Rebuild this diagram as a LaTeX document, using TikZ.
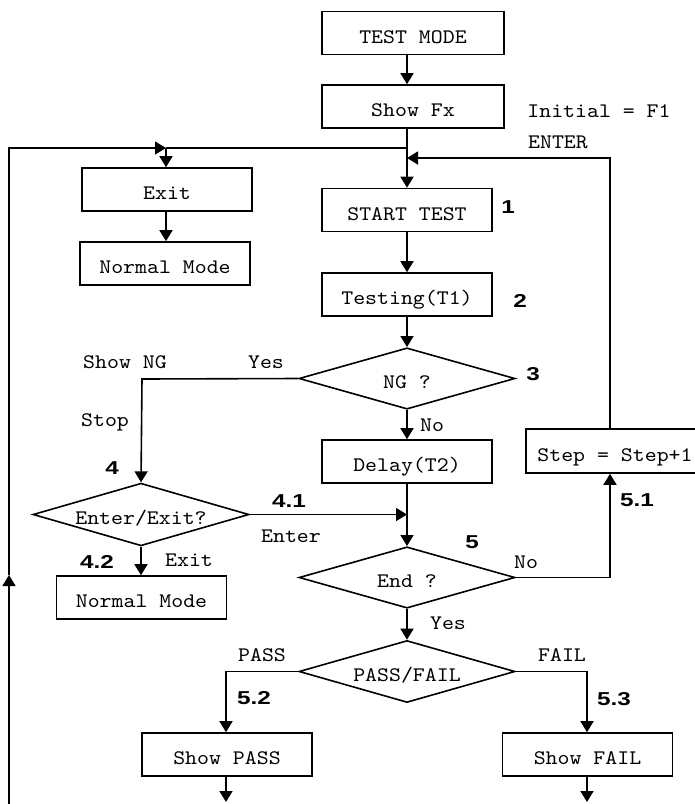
\documentclass[tikz,border=0pt]{standalone}
\usepackage{fontspec}
\usetikzlibrary{arrows.meta,shapes.geometric}
\newfontfamily\ming{lmmono10-regular.otf}[FakeStretch=1.1]
\newfontfamily\numf{Liberation Sans}[FakeStretch=1.3]
\begin{document}
\begin{tikzpicture}[x=0.75pt,y=-0.75pt,
  line width=1.2pt,
  arr/.style={-{Triangle[length=8.25pt,width=9.75pt]}},
  txt/.style={font=\ming\fontsize{15.5}{15.5}\selectfont},
  box/.style={draw,rectangle,inner sep=0pt,minimum width=127.5pt,minimum height=32.25pt,txt,text height=16pt,text depth=0.3pt},
  widebox/.style={box,minimum width=136.5pt},
  dia/.style={draw,diamond,aspect=3.5,inner sep=0pt,minimum width=162pt,minimum height=46pt,txt,text height=16pt,text depth=0.3pt},
  lbl/.style={txt,inner sep=0pt},
  num/.style={font=\numf\bfseries\fontsize{14}{14}\selectfont,inner sep=0pt}]
\useasboundingbox (0,0) rectangle (694,804);

% main column
\node[widebox] (testmode) at (413,33) {TEST MODE};
\node[widebox] (showfx) at (413,106.5) {Show Fx};
\node[box] (start) at (407,210) {START TEST};
\node[box] (testing) at (407,294.5) {Testing(T1)};
\node[dia] (ng) at (407,378.5) {NG ?};
\node[box] (delay) at (407,461.5) {Delay(T2)};
\node[dia] (endq) at (407,577.5) {End ?};
\node[dia,minimum height=46.5pt] (pf) at (407,671.5) {PASS/FAIL};
\node[box] (spass) at (227,754.5) {Show PASS};
\node[box] (sfail) at (587.5,754.5) {Show FAIL};

% left column
\node[box] (exit) at (167,189.5) {Exit};
\node[box] (norm1) at (165,263.5) {Normal Mode};
\node[dia,minimum height=47pt] (ee) at (141,514.5) {Enter/Exit?};
\node[box] (norm2) at (141.5,597.5) {Normal Mode};

% right
\node[box,minimum width=133.5pt,minimum height=33pt] (step) at (615,451) {Step = Step+1};

% helper coordinates
\coordinate (bl) at (9,805);
\coordinate (lm) at (9,575);
\coordinate (tl) at (9,148);
\coordinate (j1) at (166,148);
\coordinate (rt) at (610,158);
\coordinate (nl) at (142,379);
\coordinate (er) at (610,577.5);
\coordinate (pl) at (226,671.5);
\coordinate (pr) at (587,671.5);
\coordinate (pb) at (226,802);
\coordinate (fb) at (587,802);

% connectors main column
\draw[arr] (testmode.south -| start.north) -- (showfx.north -| start.north);
\draw[arr] (showfx.south -| start.north) -- (start.north);
\draw[arr] (start) -- (testing);
\draw[arr] (testing) -- (ng);
\draw[arr] (ng) -- (delay);
\draw[arr] (delay) -- (endq);
\draw[arr] (endq) -- (pf);
\draw[arr] (pf.west) -- (pl) -- (spass.north -| pl);
\draw[arr] (pf.east) -- (pr) -- (sfail.north -| pr);
\draw[arr] (spass.south -| pb) -- (pb);
\draw[arr] (sfail.south -| fb) -- (fb);

% left loop
\draw[arr] (bl) -- (lm);
\draw[arr] (lm) -- (tl) -- (j1);
\draw (j1) -- (j1 -| start.north);
\draw[arr] (j1) -- (exit.north -| j1);
\draw[arr] (exit.south -| j1) -- (norm1.north -| j1);

% NG yes branch
\draw[arr] (ng.west) -- (nl) -- (ee.north);
\draw[arr] (ee.east) -- (ee.east -| delay.south);
\draw[arr] (ee) -- (norm2.north -| ee);

% end no branch
\draw[arr] (endq.east) -- (er) -- (step.south -| er);
\draw[arr] (step.north -| rt) -- (rt) -- (rt -| start.north);

% texts
\node[lbl] (init) at (599,111) {Initial = F1};
\node[lbl] (enter1) at (558,142) {ENTER};
\node[lbl] (showng) at (125,362) {Show NG};
\node[lbl] (yes1) at (266,362) {Yes};
\node[lbl] (stop) at (105,422) {Stop};
\node[lbl] (no1) at (432,425) {No};
\node[lbl] (enter2) at (291,536) {Enter};
\node[lbl] (exit2) at (189,560) {Exit};
\node[lbl] (no2) at (526,562) {No};
\node[lbl] (yes2) at (448,623) {Yes};
\node[lbl] (pass) at (262,655) {PASS};
\node[lbl] (fail) at (562,655) {FAIL};

\node[num] (n1) at (508,207) {1};
\node[num] (n2) at (520,301) {2};
\node[num] (n3) at (533,374) {3};
\node[num] (n4) at (112,468) {4};
\node[num] (n41) at (289,501) {4.1};
\node[num] (n42) at (97,562) {4.2};
\node[num] (n5) at (472,542) {5};
\node[num] (n51) at (637,500) {5.1};
\node[num] (n52) at (254,698) {5.2};
\node[num] (n53) at (614,699) {5.3};
\end{tikzpicture}
\end{document}
